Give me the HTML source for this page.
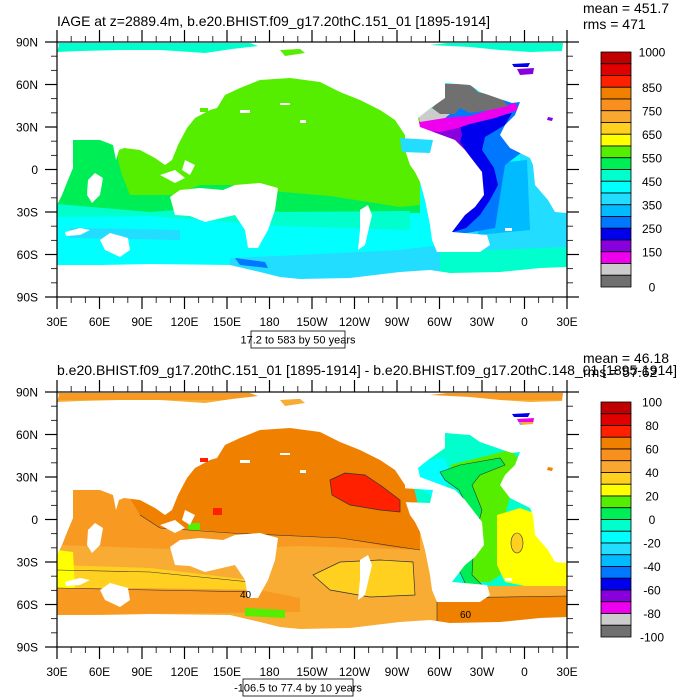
<!DOCTYPE html>
<html><head><meta charset="utf-8"><style>
html,body{margin:0;padding:0;background:#fff;}
svg{display:block;font-family:"Liberation Sans",sans-serif;}
</style></head><body>
<svg id="fig" width="700" height="700" viewBox="0 0 700 700" xmlns="http://www.w3.org/2000/svg">
<defs>
<mask id="ocean" maskUnits="userSpaceOnUse" x="0" y="0" width="700" height="700">
  <rect x="0" y="0" width="700" height="700" fill="#000"/>
  <path fill="#fff" d="M57,205 L62,195 L68,180 L73,168 L73,140 L100,140 L113,145 L116,160 L119,150 L124,148 L140,150 L155,158 L165,165 L172,160 L178,145 L187,128 L195,118 L210,110 L217,108 L225,95 L240,88 L260,80 L290,78 L320,82 L340,92 L360,100 L380,110 L395,120 L405,135 L405,150 L410,165 L415,172 L420,182 L425,200 L430,225 L432,240 L437,252 L480,252 L490,245 L487,235 L452,232 L465,215 L475,207 L484,195 L482,172 L465,150 L455,140 L420,127 L418,118 L428,110 L445,98 L445,83 L470,85 L480,92 L503,100 L512,103 L520,102 L515,115 L505,125 L500,135 L510,148 L530,158 L533,165 L535,185 L548,200 L555,212 L567,213 L567,267 L540,268 L500,272 L450,273 L430,270 L400,272 L350,278 L300,279 L280,277 L260,272 L230,265 L150,264 L100,265 L57,265 Z"/>
  <path fill="#fff" d="M57,52 L59,45 L58,43 L250,43 L258,46 L232,49 L205,53 L160,50 L120,50 L80,51 Z"/>
  <path fill="#fff" d="M280,50 L300,49 L305,53 L285,56 Z"/>
  <path fill="#fff" d="M430,45 L447,43 L563,43 L562,51 L530,52 L500,50 L470,47 Z"/>
  <path fill="#fff" d="M512,64 L530,63 L528,67 L514,67 Z M517,69 L534,68 L533,74 L520,75 Z M548,117 L553,118 L552,121 L547,120 Z"/>
  <path fill="#fff" d="M188,173 L200,173 L200,180 L188,180 Z M200,108 L208,108 L208,112 L200,112 Z M213,158 L222,158 L222,165 L213,165 Z M400,138 L433,140 L430,153 L402,152 Z"/>
  <path fill="#000" d="M170,197 L180,190 L200,188 L223,190 L235,185 L260,183 L278,188 L275,210 L268,230 L258,248 L248,248 L245,230 L235,215 L222,218 L205,222 L190,216 L175,215 Z"/>
  <path fill="#000" d="M88,180 L95,173 L103,178 L100,195 L92,203 L87,195 Z"/>
  <path fill="#000" d="M100,240 L110,233 L128,238 L130,250 L120,257 L105,250 Z"/>
  <path fill="#000" d="M65,232 L80,228 L90,230 L80,235 L66,236 Z"/>
  <path fill="#000" d="M160,175 L175,170 L185,178 L175,183 Z M185,160 L195,165 L190,175 L182,170 Z"/>
  <path fill="#000" d="M240,110 L250,110 L250,113 L240,113 Z M280,103 L290,103 L290,105 L280,105 Z M300,120 L306,120 L306,123 L300,123 Z"/>
  <path fill="#000" d="M360,210 L368,205 L372,215 L365,245 L358,250 L360,230 Z"/>
  <path fill="#000" d="M473,250 L478,248 L480,252 Z M505,228 L512,228 L512,231 L505,231 Z"/>
</mask>
</defs>

<g>
 <g mask="url(#ocean)">
  <rect x="57" y="42" width="510" height="256" fill="#00ffff"/>
  <path fill="#00ffcc" d="M57,43 L567,43 L567,56 L57,56 Z"/>
  <path fill="#55ee00" d="M280,48 L310,48 L310,57 L280,57 Z"/>
  <path fill="#00ee55" d="M57,140 L420,140 L420,213 L280,212 L230,205 L150,213 L57,208 Z"/>
  <path fill="#55ee00" d="M116,140 L200,70 L420,70 L420,205 L400,207 L330,196 L283,192 L230,185 L200,185 L175,195 L130,195 L122,175 L118,160 Z"/>
  <path fill="#00ffcc" d="M57,204 L150,212 L230,206 L280,212 L410,211 L410,230 L280,226 L150,216 L57,217 Z"/>
  <path fill="#22ddff" d="M230,258 L300,255 L400,250 L440,245 L440,280 L230,280 Z"/>
  <path fill="#22ddff" d="M70,228 L180,230 L180,240 L70,238 Z"/>
  <path fill="#0077ff" d="M235,258 L265,262 L268,268 L240,265 Z"/>
  <path fill="#22ddff" d="M400,138 L433,140 L430,153 L402,152 Z"/>
  <path fill="#00ffcc" d="M440,250 L567,245 L567,280 L440,280 Z"/>
  <path fill="#22ddff" d="M440,228 L567,213 L567,247 L440,252 Z"/>
  <path fill="#22ddff" d="M520,140 L567,140 L567,220 L520,228 Z"/>
  <path fill="#00bbff" d="M478,165 L527,160 L530,230 L478,235 Z"/>
  <path fill="#0077ff" d="M445,110 L530,95 L525,150 L505,165 L495,228 L450,236 L450,150 Z"/>
  <path fill="#0000ee" d="M455,128 L490,118 L512,113 L505,125 L485,137 L482,150 L494,168 L498,185 L490,200 L480,215 L466,228 L450,233 L462,213 L476,198 L482,180 L472,160 L460,143 Z"/>
  <path fill="#8800dd" d="M428,125 L460,125 L462,135 L460,142 L471,158 L482,178 L477,200 L467,195 L474,175 L464,158 L450,140 L430,135 Z"/>
  <path fill="#ee00ee" d="M417,122 L440,118 L470,116 L495,108 L516,103 L518,110 L495,118 L470,124 L458,128 L440,132 L417,130 Z"/>
  <path fill="#cccccc" d="M418,112 L440,106 L455,110 L445,118 L420,122 Z"/>
  <path fill="#707070" d="M440,100 L445,84 L470,84 L478,92 L490,95 L503,100 L508,106 L490,110 L470,113 L460,108 L455,114 L440,114 L432,108 Z"/>
  <path fill="#0000ee" d="M512,62 L532,62 L532,68 L512,68 Z"/>
  <path fill="#8800dd" d="M515,68 L540,68 L540,76 L515,76 Z M545,115 L556,115 L556,122 L545,122 Z"/>
 </g>
</g>

<g transform="translate(0,350)">
 <g mask="url(#ocean)">
  <rect x="57" y="42" width="510" height="256" fill="#f8ac34"/>
  <path fill="#f89a22" d="M57,43 L567,43 L567,50 L57,50 Z"/>
  <path fill="#f89a22" d="M57,130 L420,130 L420,205 L57,205 Z"/>
  <path fill="#f08000" d="M125,140 L200,60 L420,60 L420,200 L390,197 L340,188 L280,185 L230,183 L200,180 L160,178 L140,165 Z"/>
  <path fill="#f8ac34" d="M57,195 L200,200 L300,196 L420,200 L420,222 L57,220 Z"/>
  <path fill="#ffd020" d="M57,215 L150,218 L250,230 L260,240 L150,238 L57,238 Z"/>
  <path fill="#ffd020" d="M313,225 L340,212 L380,210 L413,212 L415,245 L370,247 L330,240 Z" stroke="#333" stroke-width="0.7"/>
  <path fill="#f89a22" d="M57,238 L260,240 L300,248 L300,262 L57,265 Z"/>
  <path fill="#ffff00" d="M57,200 L73,202 L75,238 L57,238 Z"/>
  <path fill="#ff2000" d="M330,130 L345,123 L365,125 L380,135 L400,150 L400,162 L380,160 L350,155 L332,145 Z" stroke="#333" stroke-width="0.7"/>
  <path fill="#ff2000" d="M213,158 L222,158 L222,165 L213,165 Z M200,108 L208,108 L208,112 L200,112 Z"/>
  <path fill="#55ee00" d="M188,173 L200,173 L200,180 L188,180 Z M245,258 L285,260 L285,268 L245,266 Z"/>
  <path fill="#00ffcc" d="M412,80 L567,80 L567,240 L440,245 L412,130 Z"/>
  <path fill="#00ffff" d="M415,112 L445,108 L450,125 L445,140 L455,150 L445,150 L430,145 L415,135 Z"/>
  <path fill="#55ee00" d="M450,115 L510,100 L520,110 L505,165 L500,225 L490,232 L468,232 L472,200 L482,175 L474,155 L458,130 Z"/>
  <path fill="#00ee55" d="M440,122 L460,115 L500,108 L505,115 L480,125 L472,135 L482,160 L474,190 L472,225 L482,235 L466,235 L459,220 L467,185 L469,160 L459,140 L445,130 Z" stroke="#333" stroke-width="0.6"/>
  <path fill="#ffff00" d="M497,165 L520,158 L540,165 L550,190 L567,210 L567,238 L530,237 L505,232 L497,215 Z"/>
  <ellipse cx="517" cy="193" rx="6" ry="10" fill="#ffd020" stroke="#333" stroke-width="0.6"/>
  <path fill="#f8ac34" d="M437,236 L567,236 L567,248 L437,248 Z"/>
  <path fill="#f08000" d="M437,248 L567,246 L567,280 L437,280 Z" stroke="#333" stroke-width="0.6"/>
  <path fill="#0000ee" d="M512,62 L532,62 L532,68 L512,68 Z"/>
  <path fill="#ee00ee" d="M515,68 L540,68 L540,72 L515,72 Z"/>
  <path fill="#aaaaaa" d="M515,72 L522,72 L522,76 L515,76 Z"/>
  <path fill="#f08000" d="M545,115 L556,115 L556,122 L545,122 Z"/>
  <path fill="none" stroke="#333" stroke-width="0.6" d="M57,220 L150,222 L250,232 M57,238 L150,240 L260,242 M140,165 L160,178 L230,183 L340,188 L420,200"/>
 </g>
 <text x="240" y="248" font-size="10" fill="#000">40</text>
 <text x="460" y="268" font-size="10" fill="#000">60</text>
</g>

<text x="57" y="26" font-size="14" textLength="433" lengthAdjust="spacingAndGlyphs">IAGE at z=2889.4m, b.e20.BHIST.f09_g17.20thC.151_01 [1895-1914]</text>
<text x="583" y="13" font-size="14">mean = 451.7</text>
<text x="583" y="29" font-size="14">rms = 471</text>
<text x="57" y="375" font-size="14" textLength="620" lengthAdjust="spacingAndGlyphs">b.e20.BHIST.f09_g17.20thC.151_01 [1895-1914] - b.e20.BHIST.f09_g17.20thC.148_01 [1895-1914]</text>
<text x="583" y="363" font-size="14">mean = 46.18</text>
<text x="583" y="377" font-size="14">rms = 57.62</text>

<g>
<rect x="251" y="331" width="94" height="17" fill="#fff" stroke="#000" stroke-width="0.8"/>
<text x="298" y="343.5" font-size="11" text-anchor="middle">17.2 to 583 by 50 years</text>
</g>
<g>
<rect x="243" y="679" width="110" height="17" fill="#fff" stroke="#000" stroke-width="0.8"/>
<text x="298" y="691.5" font-size="11" text-anchor="middle">-106.5 to 77.4 by 10 years</text>
</g>
<g id="axes"></g>
<g id="cbars"></g>
</svg>
<script>
const lonLabels = ["30E","60E","90E","120E","150E","180","150W","120W","90W","60W","30W","0","30E"];
const latLabels = ["90N","60N","30N","0","30S","60S","90S"];
const cbColors = ["#c00000","#e00000","#ff2000","#f08000","#f89020","#f8a830","#ffd020","#ffff00","#55ee00","#00ee55","#00ffcc","#00ffff","#22ddff","#00bbff","#0077ff","#0000ee","#8800dd","#ee00ee","#cccccc","#707070"];
const topLevels = [1000,850,750,650,550,450,350,250,150,0];
const botLevels = [100,80,60,40,20,0,-20,-40,-60,-80,-100];
const topRange = [0,1000];
const botRange = [-100,100];

const NS = "http://www.w3.org/2000/svg";
function mk(tag, attrs, parent){ const e=document.createElementNS(NS,tag); for(const k in attrs) e.setAttribute(k,attrs[k]); parent.appendChild(e); return e; }
const axes=document.getElementById('axes');
const L=57, R=567, W=R-L;
function drawFrame(top){
  const bot=top+255, H=255;
  const g=mk('g',{},axes);
  
  
  mk('rect',{x:L,y:top,width:W,height:H,fill:'none',stroke:'#000','stroke-width':1.2},g);
  for(let i=0;i<=36;i++){
    const x=L+i*W/36, major=i%3===0, len=major?12:6;
    mk('line',{x1:x,y1:top,x2:x,y2:top-len,stroke:'#000','stroke-width':major?1.2:0.8},g);
    mk('line',{x1:x,y1:bot,x2:x,y2:bot+len,stroke:'#000','stroke-width':major?1.2:0.8},g);
  }
  for(let i=0;i<=18;i++){
    const y=top+i*H/18, major=i%3===0, len=major?12:6;
    mk('line',{x1:L,y1:y,x2:L-len,y2:y,stroke:'#000','stroke-width':major?1.2:0.8},g);
    mk('line',{x1:R,y1:y,x2:R+len,y2:y,stroke:'#000','stroke-width':major?1.2:0.8},g);
  }
  lonLabels.forEach((t,i)=>{
    const tx=mk('text',{x:L+i*W/12,y:bot+29,'font-size':12,'text-anchor':'middle'},g);
    
    
    tx.textContent=t;
  });
  latLabels.forEach((t,i)=>{
    const tx=mk('text',{x:38,y:top+i*H/6+4.5,'font-size':12,'text-anchor':'end'},g);
    
    
    tx.textContent=t;
  });
}
drawFrame(42); drawFrame(392);

const cb=document.getElementById('cbars');
function drawBar(top, levels, range, name){
  const H=235, x=601, w=30, n=cbColors.length, bh=H/n;
  const g=mk('g',{},cb);
  
  
  cbColors.forEach((c,i)=>{
    const r=mk('rect',{x:x,y:top+i*bh,width:w,height:bh,fill:c,stroke:'#000','stroke-width':0.8},g);
    
    
  });
  levels.forEach(v=>{
    const y=top+(range[1]-v)/(range[1]-range[0])*H;
    const t=mk('text',{x:652,y:y+4.5,'font-size':12,'text-anchor':'middle'},g);
    
    
    t.textContent=String(v);
  });
}
drawBar(52, topLevels, topRange, 'top-colorbar');
drawBar(402, botLevels, botRange, 'bottom-colorbar');
</script>
</body></html>
